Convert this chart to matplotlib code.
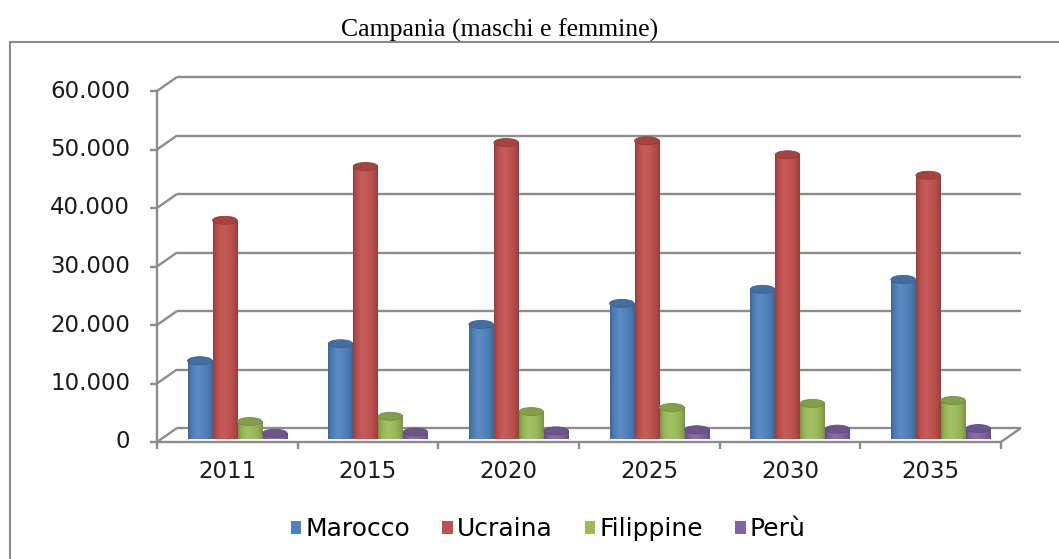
import numpy as np
import matplotlib
matplotlib.use('Agg')
import matplotlib.pyplot as plt
import matplotlib.patches as mpatches
import matplotlib.transforms as mtransforms
from matplotlib.path import Path
from matplotlib.colors import to_rgb

# data
years = ['2011', '2015', '2020', '2025', '2030', '2035']
series = ['Marocco', 'Ucraina', 'Filippine', 'Perù']
marocco = [12700, 15600, 18900, 22500, 24900, 26600]
ucraina = [36700, 45900, 50000, 50300, 47900, 44400]
filippine = [2300, 3200, 4000, 4700, 5400, 5900]
peru = [300, 500, 700, 900, 1000, 1100]
y_ticks = [0, 10000, 20000, 30000, 40000, 50000, 60000]

colors = ['#4F81BD', '#C0504D', '#9BBB59', '#8064A2']
grid_c = '#8C8C8C'

W, H = 1059, 559
fig = plt.figure(figsize=(W / 100, H / 100), dpi=100)

# plot area = middle depth plane of the 3d box (pixels)
left_px, right_px, top_px, bot_px = 167, 1011, 84, 435
ax = fig.add_axes([left_px / W, 1 - bot_px / H, (right_px - left_px) / W, (bot_px - top_px) / H])
ax.set_xlim(-0.5, len(years) - 0.5)
ax.set_ylim(0, 60000)
ax.axis('off')

px_x = (right_px - left_px) / len(years)   # pixels per category
px_y = (bot_px - top_px) / 60000.0         # pixels per unit
dx, dy = 20 / px_x, 14 / px_y              # front -> back wall shift in data units

front = mtransforms.offset_copy(ax.transData, fig=fig, x=-10, y=-7, units='dots')

line_kw = dict(color=grid_c, lw=1.7, transform=front, clip_on=False, solid_capstyle='butt')

# back wall gridlines + left slants + y ticks
for v in y_ticks:
    ax.plot([-0.5 + dx, len(years) - 0.5 + dx], [v + dy, v + dy], zorder=1, **line_kw)
    ax.plot([-0.5, -0.5 + dx], [v, v + dy], zorder=1, **line_kw)
    ax.plot([-0.5 - 7 / px_x, -0.5], [v, v], zorder=1, **line_kw)
    ax.text(-0.5, v, f'{v:,.0f}'.replace(',', '.'), ha='right', va='center',
            fontsize=16.5, color='#1a1a1a', family='DejaVu Sans',
            transform=mtransforms.offset_copy(ax.transData, fig=fig, x=-37, y=-7, units='dots'))

# front y axis and floor edges
ax.plot([-0.5, -0.5], [0, 60000], zorder=1, **line_kw)
ax.plot([-0.5, len(years) - 0.5], [0, 0], zorder=6, **line_kw)
ax.plot([len(years) - 0.5, len(years) - 0.5 + dx], [0, dy], zorder=6, **line_kw)
for k in range(len(years) + 1):
    ax.plot([k - 0.5, k - 0.5], [0, -7 / px_y], zorder=6, **line_kw)

for j, yr in enumerate(years):
    ax.text(j, 0, yr, ha='center', va='center', fontsize=16.5, color='#1a1a1a',
            family='DejaVu Sans',
            transform=mtransforms.offset_copy(ax.transData, fig=fig, x=-10, y=-37, units='dots'))


def gradient(c):
    base = np.array(to_rgb(c))
    t = np.linspace(0, 1, 64)
    peak = 0.4
    d = np.where(t < peak, (peak - t) / peak, (t - peak) / (1 - peak))
    shade = 1 - 0.22 * d ** 3
    glow = 0.08 * (1 - d) ** 2
    rgb = base[None, :] * shade[:, None] + (1 - base[None, :]) * glow[:, None]
    return np.clip(rgb, 0, 1)[None, :, :]


# cylinder bars
step = 25 / px_x
bw = step * 0.98
eh = 8 / px_y
for i, (vals, c) in enumerate(zip([marocco, ucraina, filippine, peru], colors)):
    img = gradient(c)
    for j, v in enumerate(vals):
        xc = j + (i - 1.5) * step
        rect = mpatches.Rectangle((xc - bw / 2, 0), bw, v)
        bot = mpatches.Ellipse((xc, 0), bw, eh)
        clip = Path.make_compound_path(
            rect.get_patch_transform().transform_path(rect.get_path()),
            bot.get_patch_transform().transform_path(bot.get_path()))
        im = ax.imshow(img, extent=(xc - bw / 2, xc + bw / 2, -eh / 2, v),
                       aspect='auto', interpolation='bilinear', zorder=3, clip_on=False)
        im.set_clip_path(clip, ax.transData)
        top_c = np.array(to_rgb(c)) * 0.85
        ax.add_patch(mpatches.Ellipse((xc, v), bw, eh, facecolor=top_c,
                                      edgecolor=np.array(to_rgb(c)) * 0.75, lw=0.6,
                                      zorder=4, clip_on=False))

ax.set_xlim(-0.5, len(years) - 0.5)
ax.set_ylim(0, 60000)

# legend
handles = [mpatches.Patch(facecolor=c, edgecolor='none') for c in colors]
fig.legend(handles, series, ncol=4, loc='center', bbox_to_anchor=(548 / W, 1 - 529 / H),
           frameon=False, prop={'family': 'DejaVu Sans', 'size': 18},
           handlelength=0.42, handleheight=0.42, handletextpad=0.15, columnspacing=1.3)

# title and outer frame
fig.text(500 / W, 1 - 30 / H, 'Campania (maschi e femmine)', ha='center', va='center',
         family='Liberation Serif', fontsize=18.5)
fig.add_artist(mpatches.Rectangle((10 / W, -0.1), 1.2, (H - 42) / H + 0.1,
                                  transform=fig.transFigure, fill=False,
                                  edgecolor='#8a8a8a', lw=1.5))

fig.savefig('out.png', dpi=100)
